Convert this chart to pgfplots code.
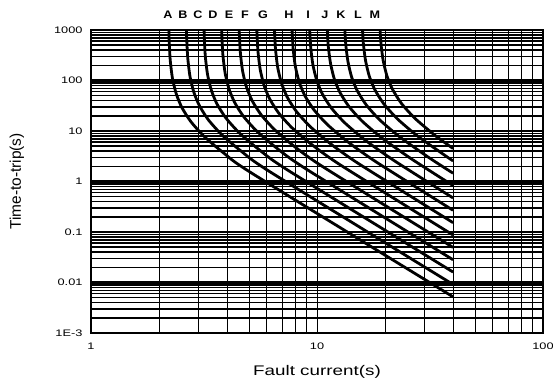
\documentclass[border=0pt]{standalone}
\usepackage{pgfplots}
\pgfplotsset{compat=1.18}
\usepackage{fontspec}
\setmainfont{Liberation Sans}
\newfontfamily\wfont[FakeStretch=1.35]{Liberation Sans}
\newfontfamily\lfont[FakeStretch=1.15]{Liberation Sans}
\begin{document}
\begin{tikzpicture}
\path[use as bounding box] (0,0) rectangle (553bp,385bp);
\begin{axis}[
  at={(91bp,52bp)}, anchor=south west,
  width=452bp, height=303bp, scale only axis,
  xmode=log, ymode=log,
  xmin=1, xmax=100, ymin=1e-3, ymax=1000,
  xtick={1,10,100}, xticklabels={1,10,100},
  ytick={0.001,0.01,0.1,1,10,100,1000},
  yticklabels={1E-3,0.01,0.1,1,10,100,1000},
  major tick length=0pt, minor tick length=0pt,
  grid=both,
  major x grid style={black, line width=0.9bp},
  minor x grid style={black, line width=0.9bp},
  major y grid style={black, line width=2.4bp},
  minor y grid style={black, line width=1.5bp},
  axis line style={black, line width=1.5bp},
  tick label style={font=\wfont\fontsize{9.5}{10}\selectfont},
  xticklabel style={anchor=center, yshift=-13bp},
  yticklabel style={anchor=east, xshift=-5bp},
  every axis x label/.style={at={(rel axis cs:0.5,0)}, anchor=center, yshift=-39bp, font=\wfont\fontsize{14}{16}\selectfont},
  every axis y label/.style={at={(rel axis cs:0,0.5)}, anchor=center, xshift=-74bp, rotate=90, font=\fontsize{15.5}{17}\selectfont},
  xlabel={Fault current(s)},
  ylabel={Time-to-trip(s)},
  cycle list={{black, solid, mark=none}},
  every axis plot post/.append style={black, solid, mark=none, line width=2.8bp, line join=round, smooth, tension=0.4},
  clip mode=individual,
  /pgf/number format/assume math mode=true,
]
% A
\addplot coordinates {(2.204,2627) (2.215,695.8) (2.241,256.9) (2.293,110.6) (2.385,53.89) (2.526,28.98) (2.770,15.20) (3.180,7.688) (3.912,3.511) (5.277,1.362) (40,0.0052)};
% B
\addplot coordinates {(2.636,2848) (2.649,754.3) (2.680,278.5) (2.742,119.9) (2.852,58.41) (3.021,31.41) (3.312,16.47) (3.803,8.333) (4.679,3.805) (6.311,1.477) (40,0.00914)};
% C
\addplot coordinates {(3.153,3089) (3.169,818.0) (3.205,302.0) (3.280,130.1) (3.411,63.35) (3.613,34.06) (3.962,17.86) (4.549,9.037) (5.596,4.127) (7.549,1.601) (40,0.0161)};
% D
\addplot coordinates {(3.770,3329) (3.789,881.8) (3.833,325.6) (3.922,140.2) (4.079,68.29) (4.321,36.72) (4.737,19.26) (5.439,9.742) (6.692,4.449) (9.027,1.726) (40,0.0282)};
% E
\addplot coordinates {(4.506,3610) (4.529,956.1) (4.582,353.0) (4.688,152.0) (4.876,74.05) (5.164,39.81) (5.663,20.88) (6.502,10.56) (7.999,4.824) (10.79,1.872) (40,0.0495)};
% F
\addplot coordinates {(5.389,3911) (5.416,1036) (5.479,382.4) (5.607,164.7) (5.830,80.22) (6.176,43.13) (6.772,22.62) (7.775,11.44) (9.565,5.226) (12.90,2.028) (40,0.0871)};
% G
\addplot coordinates {(6.446,4232) (6.479,1121) (6.554,413.8) (6.706,178.2) (6.974,86.80) (7.387,46.67) (8.100,24.48) (9.300,12.38) (11.44,5.655) (15.43,2.194) (40,0.153)};
% H
\addplot coordinates {(7.705,4573) (7.744,1211) (7.834,447.2) (8.017,192.5) (8.337,93.79) (8.830,50.43) (9.682,26.45) (11.12,13.38) (13.68,6.110) (18.45,2.371) (40,0.269)};
% I
\addplot coordinates {(9.216,4914) (9.263,1301) (9.370,480.5) (9.588,206.9) (9.971,100.8) (10.56,54.19) (11.58,28.42) (13.30,14.38) (16.36,6.566) (22.07,2.548) (40,0.472)};
% J
\addplot coordinates {(11.02,5275) (11.08,1397) (11.20,515.8) (11.47,222.1) (11.92,108.2) (12.63,58.17) (13.85,30.51) (15.90,15.43) (19.56,7.048) (26.39,2.735) (40,0.830)};
% K
\addplot coordinates {(13.17,5596) (13.24,1482) (13.39,547.2) (13.71,235.6) (14.25,114.8) (15.10,61.71) (16.56,32.36) (19.01,16.37) (23.38,7.477) (31.54,2.901) (40,1.459)};
% L
\addplot coordinates {(15.76,5876) (15.84,1556) (16.02,574.6) (16.40,247.4) (17.05,120.5) (18.06,64.81) (19.80,33.99) (22.74,17.19) (27.97,7.852) (37.73,3.047) (40,2.564)};
% M
\addplot coordinates {(18.84,6017) (18.94,1594) (19.16,588.4) (19.61,253.4) (20.39,123.4) (21.60,66.36) (23.68,34.80) (27.19,17.61) (33.45,8.040) (40,4.50)};
\tikzset{lbl/.style={font=\lfont\bfseries\fontsize{11}{11}\selectfont, anchor=center, inner sep=0pt}}
\node[lbl] at (rel axis cs:0.1704,1.0495) {A};
\node[lbl] at (rel axis cs:0.2035,1.0495) {B};
\node[lbl] at (rel axis cs:0.2367,1.0495) {C};
\node[lbl] at (rel axis cs:0.2699,1.0495) {D};
\node[lbl] at (rel axis cs:0.3053,1.0495) {E};
\node[lbl] at (rel axis cs:0.3407,1.0495) {F};
\node[lbl] at (rel axis cs:0.3805,1.0495) {G};
\node[lbl] at (rel axis cs:0.4381,1.0495) {H};
\node[lbl] at (rel axis cs:0.4801,1.0495) {I};
\node[lbl] at (rel axis cs:0.5177,1.0495) {J};
\node[lbl] at (rel axis cs:0.5531,1.0495) {K};
\node[lbl] at (rel axis cs:0.5907,1.0495) {L};
\node[lbl] at (rel axis cs:0.6283,1.0495) {M};
\end{axis}
\end{tikzpicture}
\end{document}
